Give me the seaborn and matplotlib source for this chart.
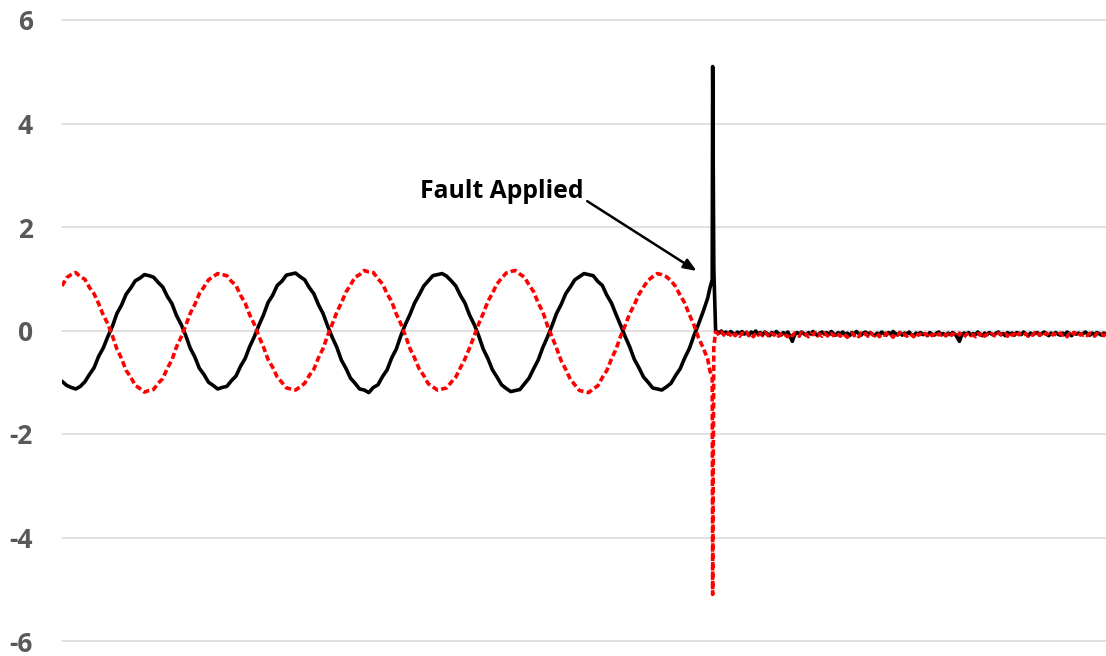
import numpy as np
import pandas as pd
import seaborn as sns
import matplotlib.pyplot as plt

# ---- waveform samples (sample index on x, per-unit current on y) ----
sample_pre = np.arange(0, 142)
sample_fault = [141.5, 142.0, 142.1, 142.35, 142.75]
sample_post = np.arange(143, 228.5, 0.5)

black_pre = [
    -0.98, -1.06, -1.10, -1.13, -1.08, -0.99, -0.85, -0.72, -0.50, -0.34, -0.12,
    0.08, 0.33, 0.49, 0.70, 0.82, 0.96, 1.01, 1.08, 1.06, 1.03, 0.93, 0.84, 0.66, 0.52, 0.29, 0.12,
    -0.09, -0.34, -0.51, -0.73, -0.85, -1.00, -1.06, -1.13, -1.10, -1.08, -0.97, -0.88, -0.69, -0.54, -0.31, -0.12,
    0.10, 0.30, 0.54, 0.68, 0.87, 0.95, 1.07, 1.09, 1.11, 1.04, 0.98, 0.83, 0.71, 0.50, 0.33, 0.09,
    -0.13, -0.32, -0.57, -0.73, -0.92, -1.02, -1.13, -1.15, -1.20, -1.10, -1.05, -0.89, -0.76, -0.53, -0.36, -0.10,
    0.12, 0.31, 0.53, 0.69, 0.86, 0.96, 1.06, 1.08, 1.10, 1.05, 0.96, 0.86, 0.68, 0.53, 0.30, 0.12,
    -0.10, -0.36, -0.54, -0.76, -0.90, -1.05, -1.12, -1.18, -1.16, -1.14, -1.03, -0.92, -0.74, -0.57, -0.33, -0.13,
    0.09, 0.33, 0.50, 0.71, 0.84, 0.98, 1.04, 1.10, 1.08, 1.06, 0.95, 0.87, 0.68, 0.53, 0.31, 0.10,
    -0.12, -0.32, -0.56, -0.72, -0.90, -1.00, -1.11, -1.13, -1.15, -1.09, -1.02, -0.87, -0.74, -0.53, -0.35, -0.10,
    0.12, 0.36, 0.62,
]
black_fault = [0.82, 0.98, 5.10, 1.20, -0.03]
black_post = [
    -0.02, -0.05, -0.01, -0.06, -0.03, -0.07, -0.02, -0.05, -0.08, -0.03,
    -0.06, -0.02, -0.07, -0.04, -0.09, -0.03, -0.06, -0.01, -0.07, -0.04,
    -0.08, -0.03, -0.06, -0.10, -0.04, -0.07, -0.02, -0.06, -0.09, -0.04,
    -0.07, -0.03, -0.11, -0.21, -0.08, -0.04, -0.07, -0.03, -0.06, -0.09,
    -0.04, -0.07, -0.02, -0.06, -0.10, -0.05, -0.03, -0.07, -0.04, -0.08,
    -0.02, -0.06, -0.09, -0.04, -0.07, -0.03, -0.08, -0.05, -0.10, -0.04,
    -0.07, -0.02, -0.06, -0.09, -0.05, -0.03, -0.08, -0.04, -0.07, -0.10,
    -0.05, -0.08, -0.03, -0.06, -0.09, -0.04, -0.07, -0.02, -0.06, -0.08,
    -0.04, -0.09, -0.05, -0.07, -0.03, -0.08, -0.10, -0.05, -0.07, -0.04,
    -0.08, -0.06, -0.10, -0.04, -0.07, -0.09, -0.05, -0.03, -0.08, -0.06,
    -0.10, -0.05, -0.08, -0.04, -0.07, -0.13, -0.21, -0.08, -0.05, -0.07,
    -0.04, -0.09, -0.06, -0.08, -0.03, -0.07, -0.10, -0.05, -0.08, -0.04,
    -0.07, -0.09, -0.05, -0.03, -0.08, -0.06, -0.10, -0.04, -0.07, -0.05,
    -0.09, -0.04, -0.06, -0.08, -0.03, -0.07, -0.10, -0.05, -0.08, -0.06,
    -0.04, -0.09, -0.06, -0.03, -0.07, -0.10, -0.05, -0.08, -0.04, -0.07,
    -0.09, -0.05, -0.08, -0.03, -0.06, -0.10, -0.04, -0.07, -0.05, -0.08,
    -0.06, -0.03, -0.07, -0.09, -0.05, -0.08, -0.04, -0.06, -0.09, -0.05,
    -0.07,
]

red_pre = [
    0.86, 1.02, 1.08, 1.12, 1.04, 0.99, 0.83, 0.71, 0.52, 0.30, 0.13,
    -0.10, -0.36, -0.54, -0.77, -0.90, -1.06, -1.12, -1.19, -1.16, -1.14, -1.02, -0.93, -0.73, -0.57, -0.32, -0.13,
    0.09, 0.33, 0.50, 0.71, 0.84, 0.98, 1.04, 1.10, 1.08, 1.06, 0.95, 0.87, 0.68, 0.53, 0.30, 0.12,
    -0.11, -0.32, -0.56, -0.71, -0.90, -1.00, -1.11, -1.13, -1.15, -1.09, -1.02, -0.87, -0.75, -0.53, -0.35, -0.10,
    0.12, 0.35, 0.53, 0.74, 0.88, 1.03, 1.08, 1.16, 1.13, 1.12, 1.00, 0.90, 0.71, 0.56, 0.32, 0.13,
    -0.10, -0.35, -0.53, -0.74, -0.87, -1.03, -1.09, -1.15, -1.13, -1.11, -1.00, -0.90, -0.72, -0.55, -0.34, -0.11,
    0.13, 0.33, 0.56, 0.72, 0.90, 1.01, 1.11, 1.14, 1.16, 1.09, 1.03, 0.88, 0.75, 0.53, 0.36, 0.10,
    -0.12, -0.34, -0.58, -0.75, -0.94, -1.05, -1.16, -1.18, -1.20, -1.13, -1.07, -0.91, -0.77, -0.55, -0.36, -0.11,
    0.10, 0.33, 0.50, 0.70, 0.84, 0.97, 1.04, 1.10, 1.08, 1.04, 0.96, 0.85, 0.68, 0.53, 0.31, 0.11,
    -0.14, -0.33, -0.55,
]
red_fault = [-0.78, -0.90, -5.10, -0.30, -0.03]
red_post = [
    -0.04, -0.09, -0.03, -0.08, -0.12, -0.05, -0.09, -0.04, -0.10, -0.06,
    -0.11, -0.05, -0.08, -0.03, -0.10, -0.07, -0.12, -0.05, -0.09, -0.06,
    -0.10, -0.04, -0.08, -0.12, -0.06, -0.09, -0.05, -0.11, -0.07, -0.04,
    -0.09, -0.12, -0.06, -0.10, -0.05, -0.08, -0.11, -0.04, -0.09, -0.07,
    -0.12, -0.06, -0.08, -0.04, -0.10, -0.07, -0.11, -0.05, -0.09, -0.12,
    -0.06, -0.10, -0.04, -0.08, -0.11, -0.06, -0.09, -0.13, -0.07, -0.05,
    -0.10, -0.07, -0.12, -0.05, -0.09, -0.06, -0.11, -0.04, -0.08, -0.10,
    -0.06, -0.12, -0.07, -0.09, -0.05, -0.10, -0.08, -0.13, -0.06, -0.09,
    -0.04, -0.10, -0.07, -0.11, -0.06, -0.08, -0.12, -0.05, -0.09, -0.07,
    -0.11, -0.06, -0.09, -0.04, -0.10, -0.08, -0.12, -0.06, -0.09, -0.05,
    -0.10, -0.07, -0.12, -0.06, -0.08, -0.11, -0.05, -0.09, -0.13, -0.07,
    -0.05, -0.10, -0.08, -0.12, -0.06, -0.09, -0.04, -0.11, -0.07, -0.10,
    -0.06, -0.09, -0.12, -0.05, -0.08, -0.10, -0.06, -0.11, -0.04, -0.09,
    -0.07, -0.12, -0.05, -0.10, -0.08, -0.06, -0.11, -0.07, -0.09, -0.04,
    -0.10, -0.06, -0.12, -0.08, -0.05, -0.09, -0.11, -0.06, -0.08, -0.10,
    -0.05, -0.09, -0.07, -0.12, -0.06, -0.10, -0.04, -0.08, -0.11, -0.06,
    -0.09, -0.07, -0.10, -0.05, -0.08, -0.11, -0.06, -0.09, -0.07, -0.10,
    -0.06,
]

y_ticks = [-6, -4, -2, 0, 2, 4, 6]
y_tick_labels = ["-6", "-4", "-2", "0", "2", "4", "6"]
annotation_text = "Fault Applied"

# ---- assemble long-form table ----
samples = np.concatenate([sample_pre, sample_fault, sample_post])
df = pd.concat([
    pd.DataFrame({"sample": samples,
                  "value": black_pre + black_fault + black_post,
                  "trace": "solid"}),
    pd.DataFrame({"sample": samples,
                  "value": red_pre + red_fault + red_post,
                  "trace": "dashed"}),
], ignore_index=True)

sns.set_theme(style="white")
plt.rcParams["font.family"] = ["Open Sans", "DejaVu Sans"]

fig = plt.figure(figsize=(11.06, 6.56), dpi=100)
ax = fig.add_axes([62 / 1106, 15 / 656, 1044 / 1106, 621 / 656])

sns.lineplot(
    data=df, x="sample", y="value",
    hue="trace", style="trace",
    hue_order=["solid", "dashed"], style_order=["solid", "dashed"],
    palette={"solid": "black", "dashed": "#ff0000"},
    dashes={"solid": "", "dashed": (1.7, 0.9)},
    estimator=None, sort=False, legend=False,
    linewidth=2.6, ax=ax,
)

ax.set_xlim(samples.min(), samples.max())
ax.set_ylim(-6, 6)
ax.set_xticks([])
ax.set_yticks(y_ticks)
ax.set_yticklabels(y_tick_labels, fontsize=19, fontweight="bold", color="#595959")
ax.tick_params(axis="y", length=0, pad=21)
ax.set_xlabel("")
ax.set_ylabel("")
ax.yaxis.grid(True, color="#d9d9d9", linewidth=1.1)
ax.xaxis.grid(False)
ax.set_axisbelow(True)
for gl in ax.get_ygridlines():
    gl.set_clip_on(False)
for spine in ax.spines.values():
    spine.set_visible(False)

# annotation marking the fault instant
ax.text(78.2, 2.56, annotation_text, ha="left", va="baseline",
        fontsize=17.8, fontweight="bold", color="black")
ax.annotate("", xy=(138.6, 1.15), xytext=(114.7, 2.50),
            arrowprops=dict(arrowstyle="-|>,head_length=0.55,head_width=0.22",
                            mutation_scale=14, color="black", lw=1.8,
                            shrinkA=0, shrinkB=0))

fig.savefig("out.png", dpi=100)
